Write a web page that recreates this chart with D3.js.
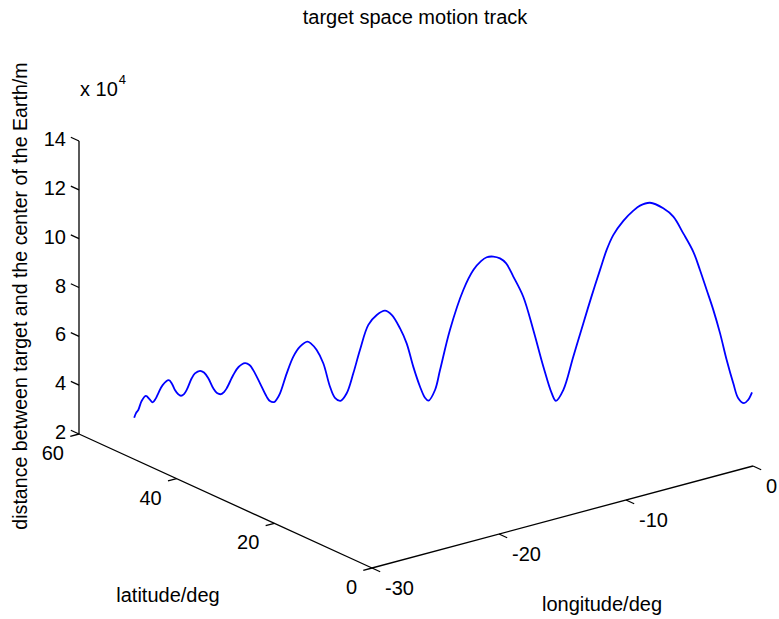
<!DOCTYPE html>
<html>

<head>
    <meta charset="utf-8">
    <style>
        body {
            margin: 0;
            background: white;
        }

        svg {
            display: block;
            font-family: 'Liberation Sans', Arial, Helvetica, sans-serif;
        }

        .axis-line {
            stroke: black;
            stroke-width: 1.3;
            fill: none;
        }

        text {
            fill: black;
        }
    </style>
</head>

<body>
    <svg width="779" height="619" id="chart"></svg>
</body>

<script src="https://d3js.org/d3.v7.min.js"></script>

<script>

    // ticks shown on the three axes
    let lonTicks = [-30, -20, -10, 0]
    let latTicks = [0, 20, 40, 60]
    let zTicks = [2, 4, 6, 8, 10, 12, 14]

    // track: longitude (deg), latitude (deg), distance (x 10^4 m)
    let lon = [-30.00, -29.91, -29.80, -29.63, -29.43, -29.26, -29.10, -28.96, -28.83, -28.62,
        -28.32, -28.16, -28.02, -27.87, -27.73, -27.58, -27.45, -27.21, -27.05, -26.80,
        -26.61, -26.40, -26.16, -25.98, -25.78, -25.64, -25.51, -25.19, -24.93, -24.62,
        -24.40, -24.22, -23.89, -23.57, -23.41, -23.21, -23.07, -22.92, -22.59, -22.27,
        -21.95, -21.59, -21.41, -21.14, -20.82, -20.49, -20.25, -19.98, -19.68, -19.36,
        -19.04, -18.63, -18.22, -17.82, -17.50, -17.09, -16.77, -16.45, -16.12, -15.88,
        -15.71, -15.39, -15.15, -14.67, -14.02, -13.53, -13.16, -12.88, -12.56, -12.24,
        -11.95, -11.59, -11.11, -10.62, -10.13, -9.73, -9.52, -9.16, -8.68, -8.19,
        -7.82, -7.38, -7.06, -6.74, -6.25, -5.76, -5.44, -4.95, -4.31, -3.82,
        -3.34, -2.85, -2.53, -2.20, -1.88, -1.55, -1.23, -0.91, -0.67, -0.39,
        -0.20, 0.00]

    let lat = [48.70, 48.56, 48.38, 48.11, 47.77, 47.50, 47.25, 47.03, 46.81, 46.46,
        45.99, 45.73, 45.50, 45.26, 45.02, 44.79, 44.58, 44.18, 43.93, 43.53,
        43.22, 42.88, 42.49, 42.20, 41.88, 41.65, 41.44, 40.92, 40.51, 40.00,
        39.65, 39.35, 38.82, 38.30, 38.04, 37.72, 37.49, 37.25, 36.73, 36.21,
        35.68, 35.11, 34.82, 34.37, 33.85, 33.33, 32.94, 32.50, 32.02, 31.50,
        30.97, 30.32, 29.66, 29.01, 28.48, 27.83, 27.31, 26.79, 26.26, 25.87,
        25.60, 25.09, 24.69, 23.91, 22.86, 22.08, 21.47, 21.03, 20.51, 19.98,
        19.51, 18.94, 18.15, 17.37, 16.58, 15.92, 15.59, 15.01, 14.23, 13.44,
        12.84, 12.13, 11.61, 11.09, 10.30, 9.52, 8.99, 8.21, 7.16, 6.38,
        5.59, 4.81, 4.28, 3.76, 3.24, 2.71, 2.19, 1.67, 1.28, 0.83,
        0.51, 0.20]

    let dist = [3.70, 3.89, 4.02, 4.40, 4.60, 4.47, 4.34, 4.48, 4.71, 5.05,
        5.25, 5.10, 4.85, 4.69, 4.62, 4.69, 4.86, 5.34, 5.54, 5.65,
        5.58, 5.35, 4.94, 4.75, 4.70, 4.79, 4.94, 5.49, 5.82, 5.98,
        5.91, 5.70, 5.16, 4.62, 4.44, 4.40, 4.53, 4.76, 5.58, 6.27,
        6.68, 6.89, 6.81, 6.55, 6.01, 5.05, 4.60, 4.48, 4.79, 5.61,
        6.57, 7.60, 8.01, 8.19, 8.02, 7.47, 6.86, 5.91, 5.09, 4.64,
        4.52, 4.96, 5.78, 7.43, 9.07, 9.89, 10.26, 10.42, 10.45, 10.38,
        10.19, 9.64, 8.82, 7.46, 5.96, 4.88, 4.57, 5.02, 6.38, 7.76,
        8.79, 9.95, 10.77, 11.38, 11.97, 12.39, 12.60, 12.72, 12.50, 12.16,
        11.48, 10.73, 9.99, 9.17, 8.36, 7.40, 6.31, 5.36, 4.75, 4.55,
        4.68, 5.00]

    let svg = d3.select("#chart")

    // fixed 3d view: each scale gives the screen offset of one axis
    let origin = [372, 568]
    let lonScale = d3.scaleLinear().domain([-30, 0]).range([[0, 0], [381, -102]])
    let latScale = d3.scaleLinear().domain([0, 60]).range([[0, 0], [-293, -134]])
    let zScale = d3.scaleLinear().domain([2, 14]).range([[0, 0], [0, -293]])

    function project(x, y, z) {
        let a = lonScale(x), b = latScale(y), c = zScale(z)
        return [origin[0] + a[0] + b[0] + c[0], origin[1] + a[1] + b[1] + c[1]]
    }

    let line = d3.line()
    let tickLen = 9

    function unit(v) {
        let n = Math.hypot(v[0], v[1])
        return [v[0] / n * tickLen, v[1] / n * tickLen]
    }

    let lonDir = unit([-381, 102])   // ticks of latitude axis point this way
    let latDir = unit([-293, -134])  // ticks of z axis
    let downDir = unit([293, 134])   // ticks of longitude axis

    let axes = svg.append("g")

    // axis lines
    axes.append("path").attr("class", "axis-line")
        .attr("d", line([project(-30, 0, 2), project(0, 0, 2)]))
    axes.append("path").attr("class", "axis-line")
        .attr("d", line([project(-30, 0, 2), project(-30, 60, 2)]))
    axes.append("path").attr("class", "axis-line")
        .attr("d", line([project(-30, 60, 2), project(-30, 60, 14)]))

    // longitude ticks
    lonTicks.forEach(t => {
        let p = project(t, 0, 2)
        axes.append("path").attr("class", "axis-line")
            .attr("d", line([p, [p[0] + downDir[0], p[1] + downDir[1]]]))
        axes.append("text")
            .attr("x", p[0] + 13).attr("y", p[1] + 20)
            .attr("dy", "0.35em")
            .attr("font-size", 20)
            .text(t)
    })

    // latitude ticks
    latTicks.forEach(t => {
        let p = project(-30, t, 2)
        axes.append("path").attr("class", "axis-line")
            .attr("d", line([p, [p[0] + lonDir[0], p[1] + lonDir[1]]]))
        axes.append("text")
            .attr("x", p[0] - 15).attr("y", p[1] + 19)
            .attr("dy", "0.35em")
            .attr("text-anchor", "end")
            .attr("font-size", 20)
            .text(t)
    })

    // z ticks
    zTicks.forEach(t => {
        let p = project(-30, 60, t)
        axes.append("path").attr("class", "axis-line")
            .attr("d", line([p, [p[0] + latDir[0], p[1] + latDir[1]]]))
        axes.append("text")
            .attr("x", p[0] - 13).attr("y", p[1] - 2)
            .attr("dy", "0.35em")
            .attr("text-anchor", "end")
            .attr("font-size", 20)
            .text(t)
    })

    // exponent note above z axis
    let expo = svg.append("text")
        .attr("x", 80).attr("y", 96)
        .attr("font-size", 20)
    expo.append("tspan").text("x 10")
    expo.append("tspan").attr("dx", 1).attr("dy", -12).attr("font-size", 13).text("4")

    // the track
    let pts = lon.map((d, i) => project(d, lat[i], dist[i]))
    svg.append("path")
        .attr("d", d3.line().curve(d3.curveCatmullRom.alpha(0.5))(pts))
        .attr("fill", "none")
        .attr("stroke", "#0000ff")
        .attr("stroke-width", 1.8)

    // title and axis labels
    svg.append("text")
        .attr("x", 415).attr("y", 24)
        .attr("text-anchor", "middle")
        .attr("font-size", 20)
        .text("target space motion track")

    svg.append("text")
        .attr("x", 168).attr("y", 602)
        .attr("text-anchor", "middle")
        .attr("font-size", 20)
        .text("latitude/deg")

    svg.append("text")
        .attr("x", 602).attr("y", 611)
        .attr("text-anchor", "middle")
        .attr("font-size", 20)
        .text("longitude/deg")

    svg.append("text")
        .attr("transform", "translate(27,296) rotate(-90)")
        .attr("text-anchor", "middle")
        .attr("font-size", 19.6)
        .text("distance between target and the center of the Earth/m")

</script>

</html>
